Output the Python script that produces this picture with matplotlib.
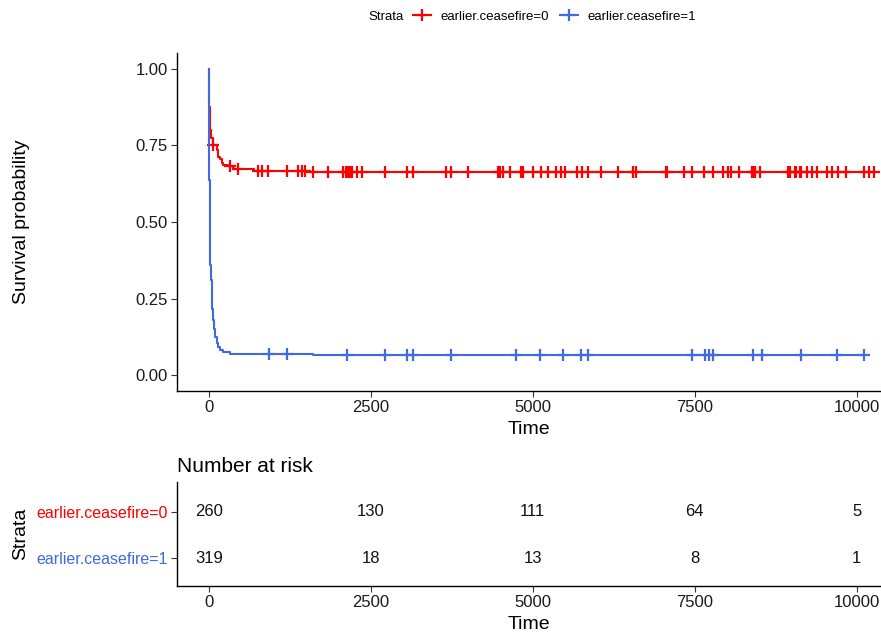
import numpy as np
import matplotlib
matplotlib.use("Agg")
import matplotlib.pyplot as plt
from matplotlib.lines import Line2D

plt.rcParams['font.family'] = ['Liberation Sans', 'DejaVu Sans']

# ---------------- data ----------------
strata = ["earlier.ceasefire=0", "earlier.ceasefire=1"]
colors = ["#FF0000", "#4169E1"]

# Kaplan-Meier step curves (time, survival after step)
red_times = [0, 3, 15, 26, 57, 119, 144, 170, 196, 221, 298, 375, 700, 1500, 10269]
red_surv = [1.0, 0.875, 0.80, 0.773, 0.752, 0.735, 0.713, 0.705, 0.692, 0.686,
            0.681, 0.673, 0.667, 0.662, 0.662]

blue_times = [0, 2, 4, 8, 14, 22, 30, 40, 50, 62, 75, 95, 119, 145, 170, 212,
              324, 1606, 10112]
blue_surv = [1.0, 0.80, 0.637, 0.52, 0.42, 0.36, 0.31, 0.26, 0.215, 0.18, 0.15,
             0.125, 0.104, 0.092, 0.082, 0.075, 0.069, 0.065, 0.065]

red_censor = [66, 324, 452, 761, 814, 916, 1200, 1379, 1431, 1482, 1610, 1842,
              2074, 2111, 2141, 2177, 2203, 2281, 2370, 2715, 3064, 3143, 3665,
              3743, 4004, 4463, 4500, 4536, 4641, 4813, 4855, 4996, 5126, 5231,
              5351, 5440, 5492, 5675, 5753, 5847, 6050, 6311, 6551, 6588, 7058,
              7073, 7329, 7460, 7648, 7778, 7935, 8013, 8065, 8190, 8379, 8399,
              8431, 8504, 8937, 8973, 9041, 9067, 9120, 9146, 9235, 9303, 9381,
              9548, 9616, 9705, 9841, 10112, 10191, 10269]
blue_censor = [926, 1209, 2126, 2725, 3064, 3143, 3733, 4735, 5116, 5466, 5742,
               5857, 7460, 7658, 7721, 7778, 8399, 8545, 9135, 9694, 10112]

risk_times = [0, 2500, 5000, 7500, 10000]
risk_red = [260, 130, 111, 64, 5]
risk_blue = [319, 18, 13, 8, 1]

xticks = [0, 2500, 5000, 7500, 10000]
yticks = [0.00, 0.25, 0.50, 0.75, 1.00]

# ---------------- figure ----------------
W, H = 881, 634
fig = plt.figure(figsize=(W / 100, H / 100), dpi=100)

xlim = (-494, 10376)

ax1 = fig.add_axes([177 / W, 1 - 391 / H, (W - 177) / W, 338 / H])
ax2 = fig.add_axes([177 / W, 1 - 586 / H, (W - 177) / W, 104.3 / H])


def step_value(times, surv, t):
    idx = np.searchsorted(times, t, side='right') - 1
    return np.asarray(surv)[idx]


lw = 1.5
msize = 8.5
mew = 1.6
for times, surv, cens, col in [(red_times, red_surv, red_censor, colors[0]),
                               (blue_times, blue_surv, blue_censor, colors[1])]:
    ax1.step(times, surv, where='post', color=col, lw=lw, zorder=3)
    cv = step_value(np.array(times), surv, np.array(cens))
    ax1.plot(cens, cv, linestyle='none', marker='+', markersize=msize,
             markeredgewidth=mew, color=col, zorder=3)

ax1.set_xlim(*xlim)
ax1.set_ylim(-0.051, 1.051)
ax1.set_xticks(xticks)
ax1.set_xticklabels([str(v) for v in xticks])
ax1.set_yticks(yticks)
ax1.set_yticklabels([f"{v:.2f}" for v in yticks])
ax1.set_xlabel("Time", fontsize=14, labelpad=4)
ax1.set_ylabel("Survival probability", fontsize=14)
ax1.yaxis.set_label_coords(30 / W, 1 - 222 / H, transform=fig.transFigure)

for ax in (ax1, ax2):
    for s in ('top', 'right'):
        ax.spines[s].set_visible(False)
    for s in ('left', 'bottom'):
        ax.spines[s].set_linewidth(1.0)
        ax.spines[s].set_color('black')
    ax.tick_params(axis='both', labelsize=12, length=4, width=0.8,
                   colors='#333333', labelcolor='#1a1a1a', pad=2.5)
    ax.set_facecolor('white')

# ---------------- risk table ----------------
rows_y = [1, 0]
for y, vals in zip(rows_y, [risk_red, risk_blue]):
    for t, v in zip(risk_times, vals):
        ax2.text(t, y, str(v), ha='center', va='center', fontsize=12,
                 color='#111111')
ax2.set_xlim(*xlim)
ax2.set_ylim(-0.594, 1.644)
ax2.set_yticks(rows_y)
ax2.set_yticklabels(strata, fontsize=11.5)
for lbl, col in zip(ax2.get_yticklabels(), colors):
    lbl.set_color(col)
ax2.set_xticks(xticks)
ax2.set_xticklabels([str(v) for v in xticks])
ax2.set_xlabel("Time", fontsize=14, labelpad=4)
ax2.set_ylabel("Strata", fontsize=14)
ax2.yaxis.set_label_coords(29 / W, 1 - 534 / H, transform=fig.transFigure)
ax2.set_title("Number at risk", loc='left', fontsize=15, pad=7)

# ---------------- legend ----------------
fig.text(368 / W, 1 - 17 / H, "Strata", fontsize=9.5, ha='left', va='center')
handles = [Line2D([0], [0], color=c, lw=lw, marker='+', markersize=msize,
                  markeredgewidth=mew) for c in colors]
fig.legend(handles, strata, loc='center left',
           bbox_to_anchor=(413 / W, 1 - 17 / H), ncol=2, frameon=False,
           fontsize=9.5, handlelength=1.4, handletextpad=0.7,
           columnspacing=0.8, borderaxespad=0, borderpad=0)

fig.savefig("out.png", dpi=100, facecolor='white')
